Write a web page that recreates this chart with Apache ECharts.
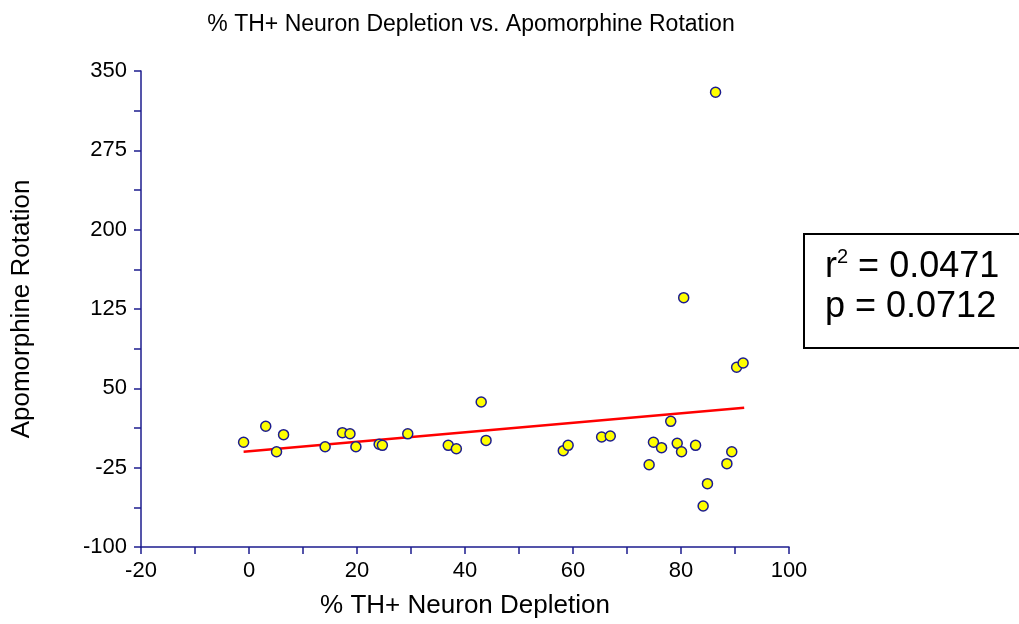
<!DOCTYPE html>
<html>
<head>
<meta charset="utf-8">
<script src="https://cdn.jsdelivr.net/npm/echarts@6/dist/echarts.min.js"></script>
<style>html,body{margin:0;padding:0;background:#fff;}#c{width:1019px;height:624px;}</style>
</head>
<body>
<div id="c"></div>
<script>
// Data
const depletion = [-1.0, 3.1, 5.1, 6.4, 14.1, 17.3, 18.7, 19.8, 24.1, 24.7, 29.4, 36.9, 38.4, 43.0, 43.9, 58.2, 59.1, 65.3, 66.9, 74.1, 74.9, 76.4, 78.1, 79.3, 80.1, 80.5, 82.7, 84.1, 84.9, 86.4, 88.5, 89.4, 90.3, 91.5];
const rotation  = [-1.0, 14.1, -9.9, 6.2, -5.2, 8.1, 7.1, -5.2, -2.9, -3.9, 7.0, -3.9, -7.1, 37.1, 0.8, -8.9, -3.9, 4.0, 4.9, -22.2, -1.0, -6.1, 18.8, -2.0, -9.9, 135.7, -3.9, -61.2, -40.1, 329.9, -21.2, -9.9, 69.9, 73.9];
const fitX = [-1.0, 91.7];
const fitY = [-9.9, 31.7];
const xTicks = { min: -20, max: 100, interval: 20 };
const yTicks = { min: -100, max: 350, interval: 75 };
const titleText = '% TH+ Neuron Depletion vs. Apomorphine Rotation';
const xName = '% TH+ Neuron Depletion';
const yName = 'Apomorphine Rotation';
const statR2 = '0.0471';
const statP = '0.0712';

const font = 'Liberation Sans, Arial, sans-serif';
const axisCol = '#1c1c8e';
const chart = echarts.init(document.getElementById('c'), null, { renderer: 'canvas' });
const axisCommon = {
  axisLine: { show: true, onZero: false, lineStyle: { color: axisCol, width: 1.5 } },
  axisTick: { show: true, inside: false, length: 7, lineStyle: { color: axisCol, width: 1.5 } },
  minorTick: { show: true, splitNumber: 2, length: 7, lineStyle: { color: axisCol, width: 1.5 } },
  splitLine: { show: false },
  axisLabel: { color: '#000', fontFamily: font, fontSize: 22 },
  nameTextStyle: { color: '#000', fontFamily: font, fontSize: 26 }
};
chart.setOption({
  animation: false,
  backgroundColor: '#fff',
  title: {
    text: titleText, left: 466, top: 8, textAlign: 'center',
    textStyle: { fontFamily: font, fontSize: 23, fontWeight: 'normal', color: '#000' }
  },
  grid: { left: 141, right: 230, top: 71, bottom: 77 },
  xAxis: Object.assign({}, axisCommon, {
    type: 'value', min: xTicks.min, max: xTicks.max, interval: xTicks.interval,
    name: xName, nameLocation: 'middle', nameGap: 46,
    axisLabel: Object.assign({}, axisCommon.axisLabel, { margin: 13 })
  }),
  yAxis: Object.assign({}, axisCommon, {
    type: 'value', min: yTicks.min, max: yTicks.max, interval: yTicks.interval,
    name: yName, nameLocation: 'middle', nameGap: 106, nameRotate: 90,
    axisLabel: Object.assign({}, axisCommon.axisLabel, { margin: 14 })
  }),
  series: [
    {
      type: 'line', data: fitX.map((x, i) => [x, fitY[i]]), symbol: 'none',
      lineStyle: { color: '#ff0000', width: 2.5 }, z: 2, silent: true
    },
    {
      type: 'scatter', data: depletion.map((x, i) => [x, rotation[i]]),
      symbol: 'circle', symbolSize: 10,
      itemStyle: { color: '#ffff00', borderColor: axisCol, borderWidth: 1.5, opacity: 1 },
      z: 3
    }
  ],
  graphic: [
    {
      type: 'rect', left: 803, top: 233,
      shape: { width: 240, height: 114 },
      style: { fill: '#fff', stroke: '#000', lineWidth: 2 }
    },
    {
      type: 'text', left: 825, top: 247,
      style: {
        text: '{b|r}{s|2}{b| = ' + statR2 + '}\n{b|p = ' + statP + '}',
        rich: {
          b: { fontFamily: font, fontSize: 36, color: '#000', lineHeight: 40 },
          s: { fontFamily: font, fontSize: 20, color: '#000', lineHeight: 40, verticalAlign: 'top', padding: [0, 0, 14, 0] }
        }
      }
    }
  ]
});
</script>
</body>
</html>
